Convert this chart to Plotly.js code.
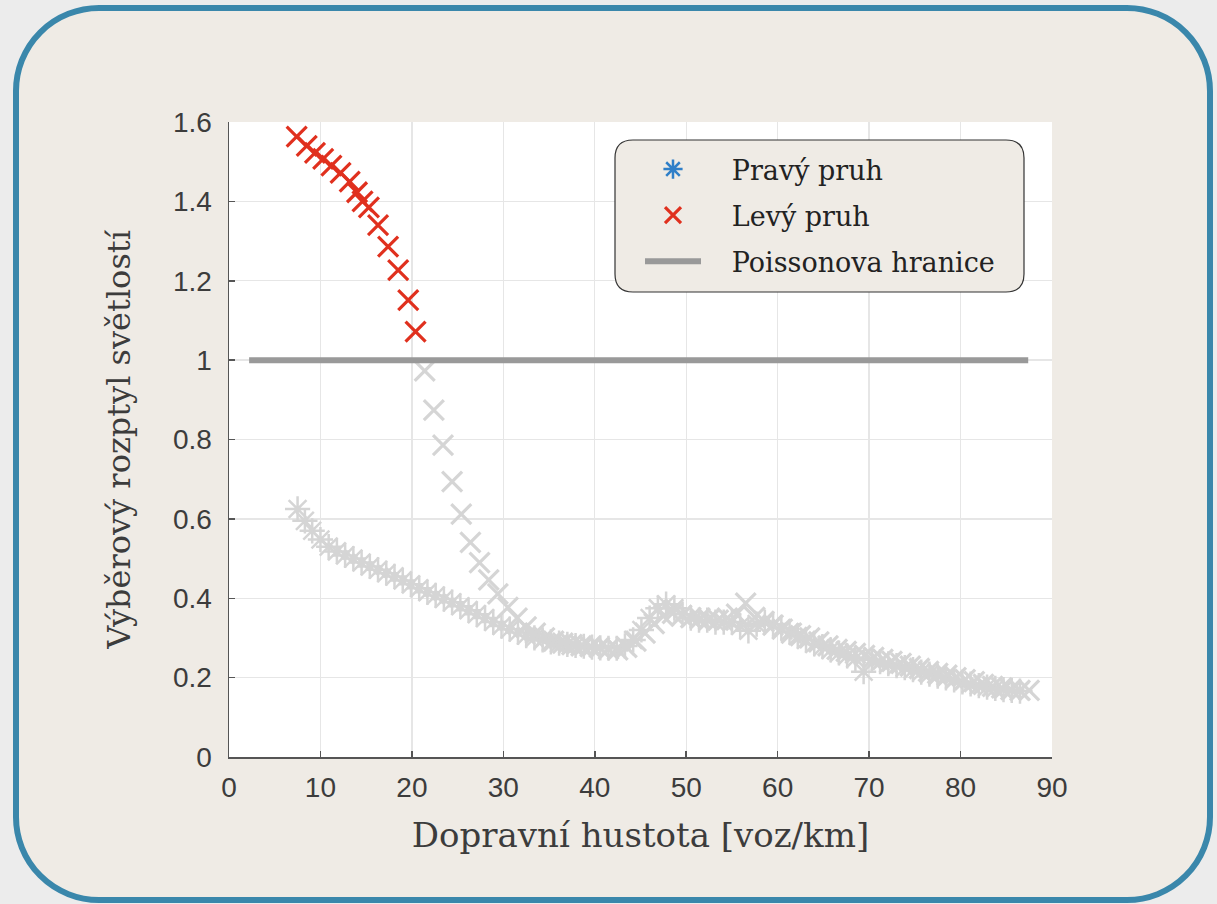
<!DOCTYPE html>
<html>
<head>
<meta charset="utf-8">
<script src="https://cdn.plot.ly/plotly-3.0.1.min.js"></script>
<style>
  html, body { margin: 0; padding: 0; background: #ECECEC; width: 1217px; height: 904px; overflow: hidden; }
  #frame { position: absolute; left: 13px; top: 5px; width: 1188px; height: 886px; border: 6px solid #3A87AB; border-radius: 86px; background: #EFEBE5; }
  #chart { position: absolute; left: 0; top: 0; width: 1217px; height: 904px; }
</style>
</head>
<body>
<div id="frame"></div>
<div id="chart"></div>
<script>
// Levý pruh (left lane)
const leftX = [7.4, 8.5, 9.4, 10.3, 11.2, 12.2, 13.2, 14.0, 14.6, 15.3, 16.3, 17.4, 18.5, 19.6, 20.4,
  21.4, 22.4, 23.4, 24.4, 25.4, 26.4, 27.4, 28.4, 29.4, 30.5, 31.5, 32.5, 33.5, 34.5, 35.5, 36.5, 37.5,
  38.5, 39.5, 40.5, 41.5, 42.5, 43.5, 44.5, 45.5, 46.5, 47.5, 48.5, 49.5, 50.5, 51.5, 52.5, 53.5, 54.5,
  55.5, 56.5, 57.5, 58.5, 59.5, 60.5, 61.5, 62.5, 63.5, 64.5, 65.5, 66.5, 67.5, 68.5, 69.5, 70.5, 71.5,
  72.5, 73.5, 74.5, 75.5, 76.5, 77.5, 78.5, 79.5, 80.5, 81.5, 82.5, 83.5, 84.5, 85.5, 86.5, 87.5];
const leftY = [1.563, 1.54, 1.522, 1.507, 1.49, 1.472, 1.45, 1.423, 1.40, 1.385, 1.34, 1.286, 1.227, 1.151, 1.072,
  0.973, 0.874, 0.786, 0.694, 0.612, 0.541, 0.49, 0.446, 0.411, 0.377, 0.35, 0.328, 0.312, 0.300, 0.292, 0.287, 0.283,
  0.280, 0.278, 0.276, 0.272, 0.270, 0.276, 0.292, 0.312, 0.336, 0.355, 0.362, 0.356, 0.351, 0.350, 0.346, 0.345, 0.350,
  0.360, 0.388, 0.352, 0.342, 0.332, 0.322, 0.312, 0.306, 0.300, 0.290, 0.280, 0.271, 0.266, 0.261, 0.256, 0.251, 0.246,
  0.241, 0.236, 0.229, 0.223, 0.216, 0.211, 0.206, 0.200, 0.195, 0.190, 0.183, 0.178, 0.174, 0.170, 0.168, 0.168];

// Pravý pruh (right lane)
const rightX = [7.5, 8.3, 9.1, 10.0, 10.9, 11.8, 12.7, 13.6, 14.5, 15.4, 16.3, 17.2, 18.1, 19.0, 19.9, 20.8,
  21.7, 22.6, 23.5, 24.4, 25.3, 26.2, 27.1, 28.0, 28.9, 29.8, 30.7, 31.6, 32.5, 33.4, 34.3, 35.2, 36.1, 37.0,
  37.9, 38.8, 39.7, 40.6, 41.5, 42.4, 43.3, 44.2, 45.1, 46.0, 46.9, 47.8, 48.7, 49.6, 50.5, 51.4, 52.3, 53.2,
  54.1, 55.0, 55.9, 56.8, 57.7, 58.6, 59.5, 60.4, 61.3, 62.2, 63.1, 64.0, 64.9, 65.8, 66.7, 67.6, 68.5, 69.4,
  70.3, 71.2, 72.1, 73.0, 73.9, 74.8, 75.7, 76.6, 77.5, 78.4, 79.3, 80.2, 81.1, 82.0, 82.9, 83.8, 84.7, 85.6, 86.5];
const rightY = [0.625, 0.595, 0.570, 0.548, 0.530, 0.518, 0.508, 0.500, 0.490, 0.480, 0.472, 0.463, 0.455, 0.445, 0.435, 0.425,
  0.415, 0.407, 0.398, 0.390, 0.380, 0.370, 0.360, 0.350, 0.340, 0.330, 0.322, 0.314, 0.306, 0.300, 0.295, 0.290, 0.287, 0.284,
  0.281, 0.279, 0.277, 0.275, 0.274, 0.274, 0.280, 0.295, 0.320, 0.350, 0.375, 0.385, 0.375, 0.360, 0.350, 0.345, 0.345, 0.340,
  0.340, 0.340, 0.330, 0.318, 0.335, 0.340, 0.335, 0.325, 0.315, 0.305, 0.295, 0.285, 0.278, 0.270, 0.262, 0.255, 0.248, 0.215,
  0.245, 0.240, 0.235, 0.230, 0.225, 0.220, 0.214, 0.209, 0.204, 0.199, 0.194, 0.189, 0.184, 0.180, 0.176, 0.173, 0.170, 0.168, 0.166];

// Poisson boundary
const poissonX = [2.2, 87.4];
const poissonY = [1, 1];
const threshold = 1;

const seriesNames = ["Pravý pruh", "Levý pruh", "Poissonova hranice"];
const xTicks = [0, 10, 20, 30, 40, 50, 60, 70, 80, 90];
const yTicks = [0, 0.2, 0.4, 0.6, 0.8, 1, 1.2, 1.4, 1.6];
const yTickText = ["0", "0.2", "0.4", "0.6", "0.8", "1", "1.2", "1.4", "1.6"];

const GRAY = "#D5D5D5";
const RED = "#E0301E";
const BLUE = "#2F7FC8";
const PAD = "\u00a0\u00a0\u00a0";

const leftAboveX = [], leftAboveY = [], leftBelowX = [], leftBelowY = [];
leftX.forEach((x, i) => {
  if (leftY[i] > threshold) { leftAboveX.push(x); leftAboveY.push(leftY[i]); }
  else { leftBelowX.push(x); leftBelowY.push(leftY[i]); }
});

const traces = [
  { x: rightX, y: rightY, mode: "markers", type: "scatter", showlegend: false, hoverinfo: "skip",
    marker: { symbol: "asterisk-open", size: 21, color: GRAY, line: { color: GRAY, width: 2.5 } } },
  { x: leftBelowX, y: leftBelowY, mode: "markers", type: "scatter", showlegend: false, hoverinfo: "skip",
    marker: { symbol: "x-thin-open", size: 20, color: GRAY, line: { color: GRAY, width: 3.2 } } },
  { x: poissonX, y: poissonY, mode: "lines", type: "scatter", showlegend: false,
    line: { color: "#999999", width: 6 } },
  { x: leftAboveX, y: leftAboveY, mode: "markers", type: "scatter", showlegend: false,
    marker: { symbol: "x-thin-open", size: 20, color: RED, line: { color: RED, width: 3.2 } } },
  // legend entries
  { x: [null], y: [null], mode: "markers", type: "scatter", name: PAD + seriesNames[0], legendgroup: "a",
    marker: { symbol: "asterisk-open", size: 21, color: BLUE, line: { color: BLUE, width: 2.5 } } },
  { x: [null], y: [null], mode: "markers", type: "scatter", name: PAD + seriesNames[1], legendgroup: "b",
    marker: { symbol: "x-thin-open", size: 20, color: RED, line: { color: RED, width: 3.2 } } },
  { x: [null], y: [null], mode: "lines", type: "scatter", name: PAD + seriesNames[2], legendgroup: "c",
    line: { color: "#999999", width: 6 } }
];

// rounded legend box (paper coords), pixel radius converted per axis
const plotW = 1217 - 229 - 165, plotH = 904 - 122 - 147;
const bx0 = (615 - 229) / plotW, bx1 = (1024 - 229) / plotW;
const by1 = (757 - 140) / plotH, by0 = (757 - 292) / plotH;
const rx = 18 / plotW, ry = 18 / plotH;
const boxPath = `M ${bx0 + rx} ${by1} L ${bx1 - rx} ${by1} Q ${bx1} ${by1} ${bx1} ${by1 - ry} L ${bx1} ${by0 + ry} Q ${bx1} ${by0} ${bx1 - rx} ${by0} L ${bx0 + rx} ${by0} Q ${bx0} ${by0} ${bx0} ${by0 + ry} L ${bx0} ${by1 - ry} Q ${bx0} ${by1} ${bx0 + rx} ${by1} Z`;

const layout = {
  width: 1217, height: 904,
  margin: { l: 229, r: 165, t: 122, b: 147 },
  paper_bgcolor: "rgba(0,0,0,0)",
  plot_bgcolor: "#FFFFFF",
  font: { family: "Liberation Sans, Arial, sans-serif", color: "#3C3C3C" },
  xaxis: {
    range: [0, 90], tickvals: xTicks, ticktext: xTicks.map(String),
    showgrid: true, gridcolor: "#E6E6E6", gridwidth: 1.3, zeroline: false,
    showline: true, linecolor: "#555555", linewidth: 1.5,
    ticks: "inside", ticklen: 6, tickcolor: "#555555", tickwidth: 1.5,
    ticklabelstandoff: 5,
    tickfont: { size: 28, color: "#3C3C3C" },
    title: { text: "Dopravní hustota [voz/km]", font: { family: "DejaVu Serif, serif", size: 34, color: "#3C3C3C" }, standoff: 21 }
  },
  yaxis: {
    range: [0, 1.6], tickvals: yTicks, ticktext: yTickText,
    showgrid: true, gridcolor: "#E6E6E6", gridwidth: 1.3, zeroline: false,
    showline: true, linecolor: "#555555", linewidth: 1.5,
    ticks: "inside", ticklen: 6, tickcolor: "#555555", tickwidth: 1.5,
    ticklabelstandoff: 10,
    tickfont: { size: 28, color: "#3C3C3C" },
    title: { text: "Výběrový rozptyl světlostí", font: { family: "DejaVu Serif, serif", size: 32, color: "#3C3C3C" }, standoff: 33 }
  },
  shapes: [{ type: "path", xref: "paper", yref: "paper", path: boxPath, layer: "above",
    fillcolor: "#EFEBE5", line: { color: "#333333", width: 1.2 } }],
  legend: {
    x: (640 - 229) / plotW, y: (757 - 145) / plotH, xanchor: "left", yanchor: "top",
    bgcolor: "rgba(0,0,0,0)", borderwidth: 0,
    font: { family: "DejaVu Serif, serif", size: 27, color: "#222222" },
    itemwidth: 56, tracegroupgap: 8
  },
  showlegend: true
};

Plotly.newPlot("chart", traces, layout, { displayModeBar: false, staticPlot: true });
</script>
</body>
</html>
